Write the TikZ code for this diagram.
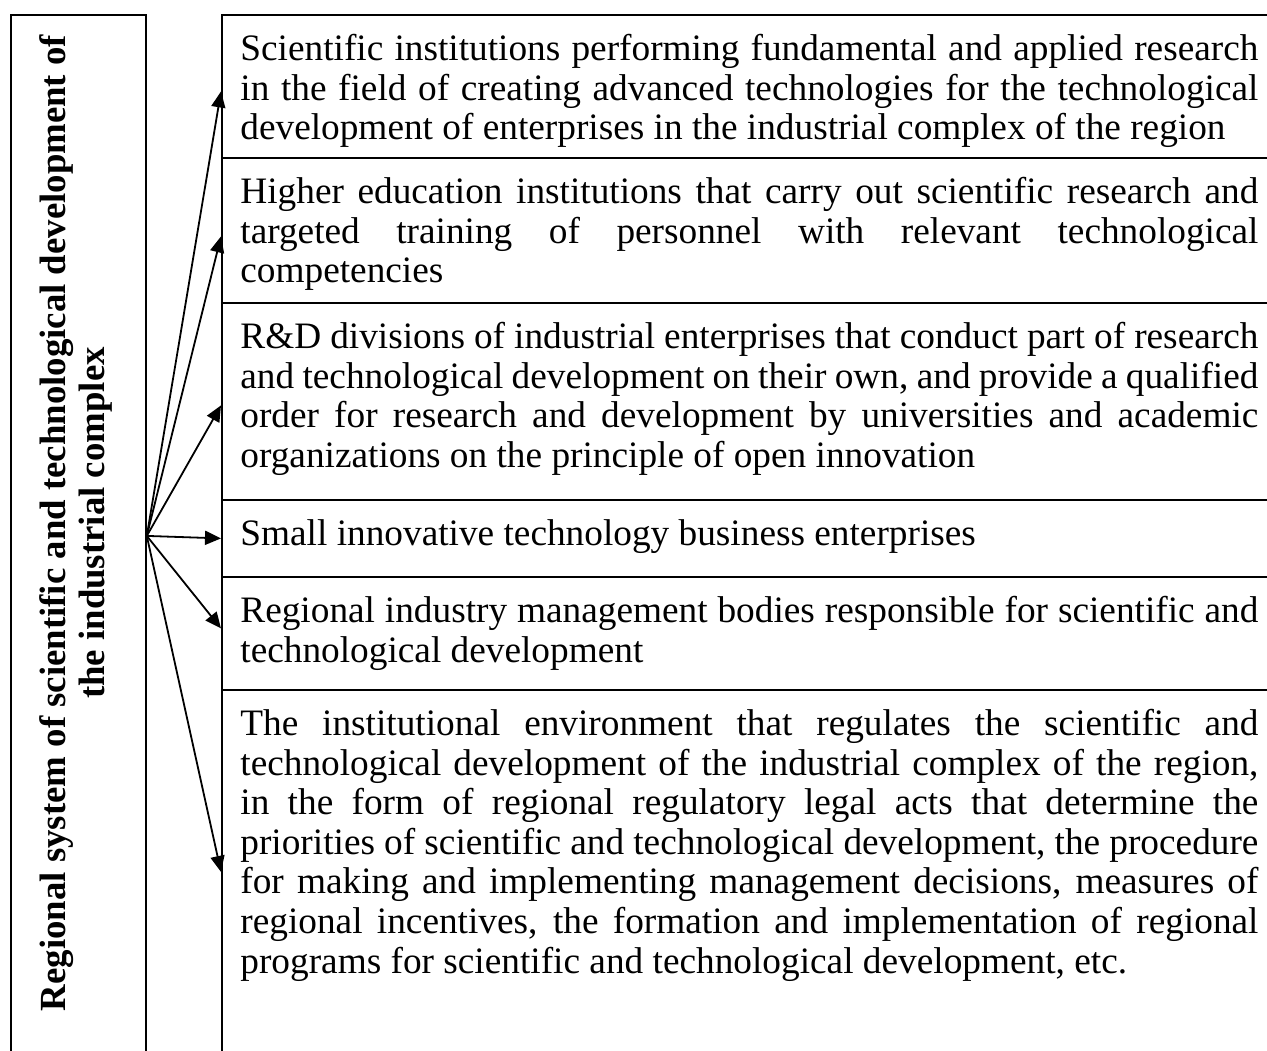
\documentclass[tikz,border=0pt]{standalone}
\usepackage{fontspec}
\setmainfont{Liberation Serif}
\usetikzlibrary{arrows.meta}
\newlength\tw \setlength\tw{509pt}
\newcommand\JL[1]{\makebox[\tw][s]{#1}}
\newcommand\FR{\rule{0pt}{14pt}}
\begin{document}
\begin{tikzpicture}[x=0.5pt,y=-0.5pt,
  box/.style={draw, line width=0.9pt, rectangle, inner sep=0pt, anchor=north west, minimum width=529.5pt},
  txt/.style={anchor=north west, inner sep=0pt, text width=\tw, align=justify, font=\fontsize{18.65pt}{19.8pt}\selectfont},
  arr/.style={line width=0.9pt, -{Triangle[length=8pt,width=7pt]}}]
\useasboundingbox (0,0) rectangle (1267,1050);
\clip (0,0) rectangle (1267,1050);
% left box
\node[draw, line width=0.9pt, rectangle, inner sep=0pt, anchor=north west, minimum width=67.5pt, minimum height=521pt] (L) at (10,14) {};
\node[rotate=90, align=center, inner sep=0pt, font=\fontsize{18.4pt}{19.8pt}\selectfont\bfseries] (Lt) at (76,523)
 {Regional system of scientific and technological development of\\the industrial complex};
% right boxes
\node[box, minimum height=71.5pt] (b1) at (221,14) {};
\node[box, minimum height=72.5pt] (b2) at (221,157) {};
\node[box, minimum height=98.5pt] (b3) at (221,302) {};
\node[box, minimum height=38.5pt] (b4) at (221,499) {};
\node[box, minimum height=56.5pt] (b5) at (221,576) {};
\node[box, minimum height=182pt] (b6) at (221,689) {};
% texts
\node[txt] (t1) at (240,32) {\FR\JL{Scientific institutions performing fundamental and applied research}\\\JL{in the field of creating advanced technologies for the technological}\\development of enterprises in the industrial complex of the region};
\node[txt] (t2) at (240,175) {\FR\JL{Higher education institutions that carry out scientific research and}\\\JL{targeted training of personnel with relevant technological}\\competencies};
\node[txt] (t3) at (240,320) {\FR\JL{R\&D divisions of industrial enterprises that conduct part of research}\\\JL{and technological development on their own, and provide a qualified}\\\JL{order for research and development by universities and academic}\\organizations on the principle of open innovation};
\node[txt] (t4) at (240,517) {\FR Small innovative technology business enterprises};
\node[txt] (t5) at (240,594) {\FR\JL{Regional industry management bodies responsible for scientific and}\\technological development};
\node[txt] (t6) at (240,707) {\FR\JL{The institutional environment that regulates the scientific and}\\\JL{technological development of the industrial complex of the region,}\\\JL{in the form of regional regulatory legal acts that determine the}\\\JL{priorities of scientific and technological development, the procedure}\\\JL{for making and implementing management decisions, measures of}\\\JL{regional incentives, the formation and implementation of regional}\\programs for scientific and technological development, etc.};
% arrows
\draw[arr] (L.east) -- ([yshift=-2.5pt]b1.west);
\draw[arr] (L.east) -- ([yshift=-3pt]b2.west);
\draw[arr] (L.east) -- ([yshift=-2pt]b3.west);
\draw[arr] (L.east) -- (b4.west);
\draw[arr] (L.east) -- ([yshift=2.5pt]b5.west);
\draw[arr] (L.east) -- (b6.west);
\end{tikzpicture}
\end{document}
